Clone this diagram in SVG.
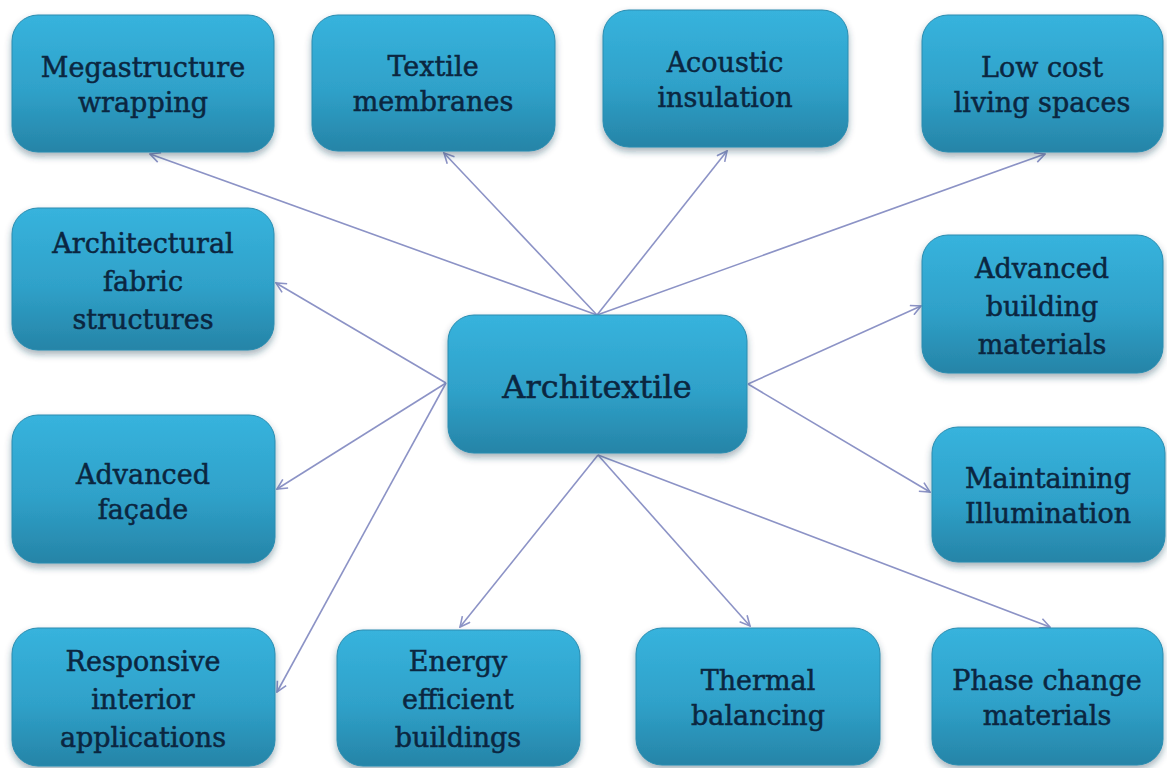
<svg xmlns="http://www.w3.org/2000/svg" width="1167" height="768" viewBox="0 0 1167 768">
  <style>
    .box { fill: url(#boxFill); stroke: #2a8cb0; stroke-width: 1; filter: url(#shadow); }
    .lbl { font-family: "DejaVu Serif", "Liberation Serif", serif; font-size: 27px; fill: #0b2640; stroke: #0b2640; stroke-width: 0.5; text-anchor: middle; }
    .big { font-size: 32px; }
    .conn line { stroke: #8c93c6; stroke-width: 1.6; fill: none; marker-end: url(#arrow); }
  </style>
  <defs>
    <linearGradient id="boxFill" x1="0" y1="0" x2="0" y2="1">
      <stop offset="0" stop-color="#37b3dd"/>
      <stop offset="0.55" stop-color="#2fa1c9"/>
      <stop offset="1" stop-color="#2684a7"/>
    </linearGradient>
    <filter id="shadow" x="-10%" y="-10%" width="120%" height="130%">
      <feDropShadow dx="0" dy="4" stdDeviation="3.5" flood-color="#1c3f52" flood-opacity="0.4"/>
    </filter>
    <marker id="arrow" viewBox="0 0 12 12" refX="11" refY="6" markerWidth="12" markerHeight="12" markerUnits="userSpaceOnUse" orient="auto">
      <path d="M1,1 L11,6 L1,11" fill="none" stroke="#8c93c6" stroke-width="1.6"/>
    </marker>
  </defs>

  <rect width="1167" height="768" fill="#ffffff"/>

  <!-- connectors from the central node -->
  <g id="connectors" class="conn">
    <line x1="597" y1="315" x2="150" y2="154"/>
    <line x1="597" y1="315" x2="444" y2="153"/>
    <line x1="597" y1="315" x2="727" y2="151"/>
    <line x1="597" y1="315" x2="1045" y2="154"/>
    <line x1="446" y1="383" x2="276" y2="283"/>
    <line x1="446" y1="383" x2="277" y2="489"/>
    <line x1="446" y1="383" x2="277" y2="692"/>
    <line x1="748" y1="384" x2="921" y2="306"/>
    <line x1="748" y1="384" x2="930" y2="492"/>
    <line x1="598" y1="455" x2="460" y2="627"/>
    <line x1="598" y1="455" x2="750" y2="626"/>
    <line x1="598" y1="455" x2="1050" y2="627"/>
  </g>

  <g id="architextile">
    <rect class="box" x="448" y="315" width="299" height="138" rx="26"/>
    <text class="lbl big" x="597" y="398">Architextile</text>
  </g>

  <g id="megastructure">
    <rect class="box" x="12" y="15" width="262" height="137" rx="26"/>
    <text class="lbl" x="143" y="77">Megastructure</text>
    <text class="lbl" x="143" y="112">wrapping</text>
  </g>

  <g id="textile-membranes">
    <rect class="box" x="312" y="15" width="243" height="136" rx="26"/>
    <text class="lbl" x="433" y="76">Textile</text>
    <text class="lbl" x="433" y="111">membranes</text>
  </g>

  <g id="acoustic-insulation">
    <rect class="box" x="603" y="10" width="245" height="137" rx="26"/>
    <text class="lbl" x="725" y="72">Acoustic</text>
    <text class="lbl" x="725" y="107">insulation</text>
  </g>

  <g id="low-cost">
    <rect class="box" x="922" y="15" width="241" height="137" rx="26"/>
    <text class="lbl" x="1042" y="77">Low cost</text>
    <text class="lbl" x="1042" y="112">living spaces</text>
  </g>

  <g id="fabric-structures">
    <rect class="box" x="12" y="208" width="262" height="142" rx="26"/>
    <text class="lbl" x="143" y="253">Architectural</text>
    <text class="lbl" x="143" y="291">fabric</text>
    <text class="lbl" x="143" y="329">structures</text>
  </g>

  <g id="building-materials">
    <rect class="box" x="922" y="235" width="241" height="138" rx="26"/>
    <text class="lbl" x="1042" y="278">Advanced</text>
    <text class="lbl" x="1042" y="316">building</text>
    <text class="lbl" x="1042" y="354">materials</text>
  </g>

  <g id="facade">
    <rect class="box" x="12" y="415" width="263" height="148" rx="26"/>
    <text class="lbl" x="143" y="484">Advanced</text>
    <text class="lbl" x="143" y="519">façade</text>
  </g>

  <g id="illumination">
    <rect class="box" x="932" y="427" width="233" height="135" rx="26"/>
    <text class="lbl" x="1048" y="488">Maintaining</text>
    <text class="lbl" x="1048" y="523">Illumination</text>
  </g>

  <g id="responsive-interior">
    <rect class="box" x="12" y="628" width="263" height="138" rx="26"/>
    <text class="lbl" x="143" y="671">Responsive</text>
    <text class="lbl" x="143" y="709">interior</text>
    <text class="lbl" x="143" y="747">applications</text>
  </g>

  <g id="energy-efficient">
    <rect class="box" x="337" y="630" width="243" height="136" rx="26"/>
    <text class="lbl" x="458" y="671">Energy</text>
    <text class="lbl" x="458" y="709">efficient</text>
    <text class="lbl" x="458" y="747">buildings</text>
  </g>

  <g id="thermal-balancing">
    <rect class="box" x="636" y="628" width="244" height="137" rx="26"/>
    <text class="lbl" x="758" y="690">Thermal</text>
    <text class="lbl" x="758" y="725">balancing</text>
  </g>

  <g id="phase-change">
    <rect class="box" x="932" y="628" width="231" height="137" rx="26"/>
    <text class="lbl" x="1047" y="690">Phase change</text>
    <text class="lbl" x="1047" y="725">materials</text>
  </g>
</svg>
